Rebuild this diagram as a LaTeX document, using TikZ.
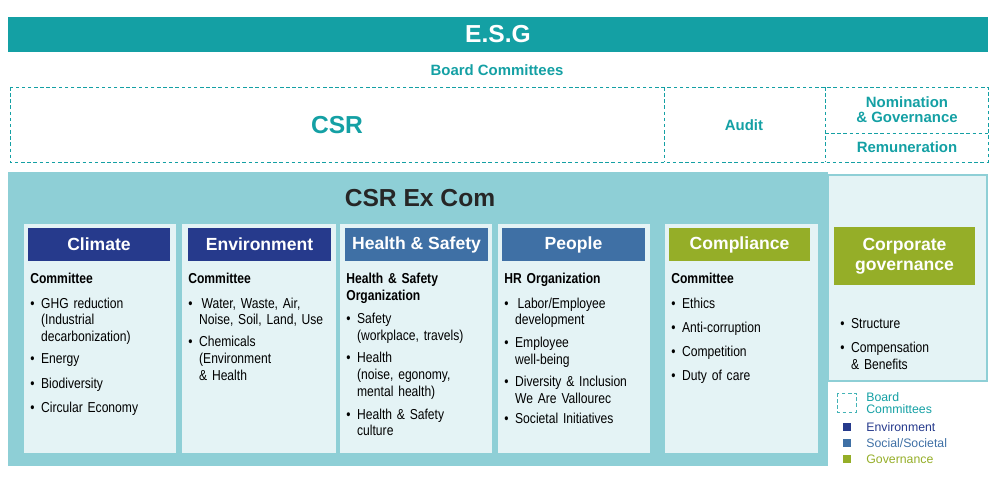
\documentclass[tikz,border=0pt]{standalone}
\usepackage{fontspec}
\setmainfont{Liberation Sans}
\newfontfamily\bodyfont[FakeStretch=0.84, WordSpace={0.8,0,0}]{Liberation Sans}
\usetikzlibrary{positioning}
\definecolor{esgteal}{HTML}{14A0A4}
\definecolor{excom}{HTML}{8ECFD6}
\definecolor{panel}{HTML}{E4F3F5}
\definecolor{envblue}{HTML}{263A8C}
\definecolor{socblue}{HTML}{3F70A5}
\definecolor{govgreen}{HTML}{95AE28}
\newcommand{\bl}[1]{\par\vspace{4.2pt}\noindent\makebox[0.75em][l]{\textbullet}\parbox[t]{74pt}{\raggedright #1}}
\newcommand{\hd}[1]{\parbox[t]{80pt}{\raggedright\bfseries #1}}
\tikzset{
    headbox/.style = {rectangle, inner sep=0pt, text=white, font=\bfseries\fontsize{10}{11.5}\selectfont, align=center},
    bodytext/.style = {anchor=north west, inner sep=0pt, text width=80pt,
      font=\bodyfont\fontsize{8.2}{9.6}\selectfont},
    tealtext/.style = {text=esgteal, font=\bfseries\fontsize{8.5}{9.5}\selectfont, align=center},
    dashbox/.style = {draw=esgteal, dashed, dash pattern=on 2pt off 1.5pt, line width=0.5pt},
    legtext/.style = {anchor=west, inner sep=0pt, font=\fontsize{7}{7.5}\selectfont, align=left}
}
\begin{document}
\begin{tikzpicture}[x=0.02cm, y=-0.02cm]
    \useasboundingbox (0,0) rectangle (1000,498);
    % top bar
    \node [name=esg, fill=esgteal, text=white, minimum width=980*0.02cm, minimum height=35*0.02cm,
        font=\bfseries\fontsize{14}{16}\selectfont] at (498,34.5) {E.S.G};
    \node [name=board, tealtext] at (497,70) {Board Committees};

    % board committees
    \draw [dashbox] (10,87) rectangle (988,162);
    \draw [dashbox] (664,87) -- (664,162) (825,87) -- (825,162) (825,133) -- (988,133);
    \node [name=csr, text=esgteal, font=\bfseries\fontsize{14}{16}\selectfont] at (337,125) {CSR};
    \node [name=audit, tealtext] at (744,125) {Audit};
    \node [name=nomin, tealtext, align=center] at (907,110) {Nomination\\[-1pt]\& Governance};
    \node [name=remun, tealtext] at (907,147) {Remuneration};

    % ex com
    \fill [excom] (8,172) rectangle (828,466);
    \fill [panel] (828,175) rectangle (987,381);
    \draw [excom, line width=1.2pt] (828,175) rectangle (987,381);
    \node [name=excomtitle, font=\bfseries\fontsize{14}{16}\selectfont, text=black!85] at (420,198) {CSR Ex Com};

    \fill [panel] (24,224) rectangle (176,453);
    \fill [panel] (182,224) rectangle (336,453);
    \fill [panel] (340,224) rectangle (492,453);
    \fill [panel] (498,224) rectangle (650,453);
    \fill [panel] (665,224) rectangle (818,453);

    \node [name=climate, headbox, fill=envblue, minimum width=142*0.02cm, minimum height=33*0.02cm] at (99,244.5) {Climate};
    \node [name=environment, headbox, fill=envblue, minimum width=143*0.02cm, minimum height=33*0.02cm] at (259.5,244.5) {Environment};
    \node [name=health, headbox, fill=socblue, minimum width=143*0.02cm, minimum height=33*0.02cm] at (416.5,244.5) {Health \& Safety};
    \node [name=people, headbox, fill=socblue, minimum width=143*0.02cm, minimum height=33*0.02cm] at (573.5,244.5) {People};
    \node [name=compliance, headbox, fill=govgreen, minimum width=141*0.02cm, minimum height=33*0.02cm] at (739.5,244.5) {Compliance};
    \node [name=corporate, headbox, fill=govgreen, minimum width=141*0.02cm, minimum height=58*0.02cm] at (904.5,256) {Corporate\\governance};

    \node [name=climatetext, bodytext] at (30,273) {\hd{Committee}
        \bl{GHG reduction\\(Industrial\\decarbonization)}\bl{Energy}\bl{Biodiversity}\bl{Circular Economy}};
    \node [name=envtext, bodytext] at (188,273) {\hd{Committee}
        \bl{\,Water, Waste, Air,\\Noise, Soil, Land, Use}\bl{Chemicals\\(Environment\\\& Health}};
    \node [name=healthtext, bodytext] at (346,273) {\hd{Health \& Safety\\Organization}
        \bl{Safety\\(workplace, travels)}\bl{Health\\(noise, egonomy,\\mental health)}\bl{Health \& Safety\\culture}};
    \node [name=peopletext, bodytext] at (504,273) {\hd{HR Organization}
        \bl{\,Labor/Employee\\development}\bl{Employee\\well-being}\bl{Diversity \& Inclusion\\We Are Vallourec}\bl{Societal Initiatives}};
    \node [name=compltext, bodytext] at (671,273) {\hd{Committee}
        \bl{Ethics}\bl{Anti-corruption}\bl{Competition}\bl{Duty of care}};
    \node [name=corptext, bodytext] at (840,304) {\bl{Structure}\bl{Compensation\\\& Benefits}};

    % legend
    \draw [dashbox, esgteal!80] (837,393) rectangle (856,412);
    \node [name=legboard, legtext, text=esgteal] at (866,403) {Board\\[-1pt]Committees};
    \fill [envblue] (843,423) rectangle (851,431);
    \node [name=legenv, legtext, text=envblue] at (866,427) {Environment};
    \fill [socblue] (843,439) rectangle (851,447);
    \node [name=legsoc, legtext, text=socblue] at (866,443) {Social/Societal};
    \fill [govgreen] (843,455) rectangle (851,463);
    \node [name=leggov, legtext, text=govgreen] at (866,459) {Governance};
\end{tikzpicture}
\end{document}
